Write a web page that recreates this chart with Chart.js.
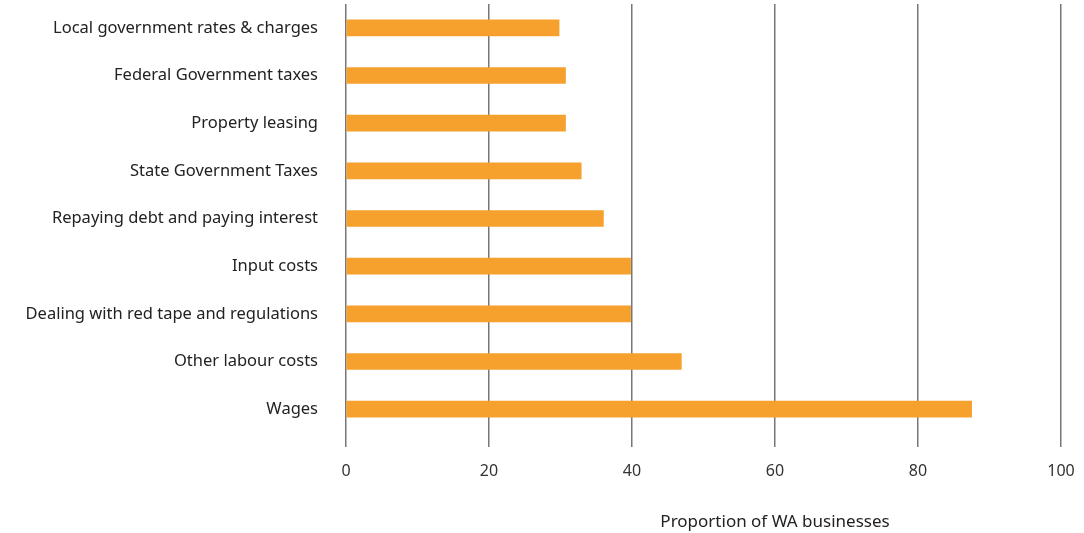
<!DOCTYPE html>
<html>
<head>
<meta charset="utf-8">
<script src="https://cdn.jsdelivr.net/npm/chart.js@4"></script>
<style>
  html, body { margin: 0; padding: 0; background: #fff; }
  #wrap { width: 1084px; height: 533px; }
</style>
</head>
<body>
<div id="wrap"><canvas id="costChart"></canvas></div>
<script>
// Cost pressures on WA businesses (% of businesses)
const categories = [
  "Local government rates & charges",
  "Federal Government taxes",
  "Property leasing",
  "State Government Taxes",
  "Repaying debt and paying interest",
  "Input costs",
  "Dealing with red tape and regulations",
  "Other labour costs",
  "Wages"
];
const shares = [29.8, 30.7, 30.7, 32.9, 36.0, 39.8, 39.8, 46.9, 87.5];
const xTicks = [0, 20, 40, 60, 80, 100];
const xTitle = "Proportion of WA businesses";

const fontFamily = "'Noto Sans', sans-serif";

// axis title sits under the 60 tick in the original
const axisTitle = {
  id: "axisTitle",
  afterDraw(chart) {
    const ctx = chart.ctx;
    const x = chart.scales.x.getPixelForValue(60);
    ctx.save();
    ctx.font = "17px " + fontFamily;
    ctx.fillStyle = "#222";
    ctx.textAlign = "center";
    ctx.textBaseline = "middle";
    ctx.fillText(xTitle, x, 522);
    ctx.restore();
  }
};

new Chart(document.getElementById("costChart").getContext("2d"), {
  type: "bar",
  data: {
    labels: categories,
    datasets: [
      {
        label: xTitle,
        data: shares,
        backgroundColor: "#f6a02d",
        borderWidth: 0,
        barThickness: 16,
      },
    ],
  },
  options: {
    indexAxis: "y",
    responsive: true,
    maintainAspectRatio: false,
    animation: false,
    layout: { padding: { top: 4, right: 23, bottom: 0, left: 0 } },
    plugins: {
      legend: { display: false },
      tooltip: { enabled: false },
    },
    scales: {
      x: {
        min: 0,
        max: 100,
        afterBuildTicks: scale => { scale.ticks = xTicks.map(v => ({ value: v })); },
        afterFit: scale => {
          scale.height = 100;
          scale.paddingLeft = 0;
          scale.paddingRight = 0;
        },
        border: { display: false },
        grid: { color: "#777", lineWidth: 1.5, tickLength: 14 },
        ticks: {
          padding: 15,
          color: "#333",
          font: { family: fontFamily, size: 16 },
        },
      },
      y: {
        afterFit: scale => {
          scale.width = 346;
          scale.paddingTop = 0;
          scale.paddingBottom = 0;
        },
        border: { display: false },
        grid: { display: false, drawTicks: false },
        ticks: {
          padding: 28,
          color: "#222",
          font: { family: fontFamily, size: 16.5 },
        },
      },
    },
  },
  plugins: [axisTitle],
});
</script>
</body>
</html>
